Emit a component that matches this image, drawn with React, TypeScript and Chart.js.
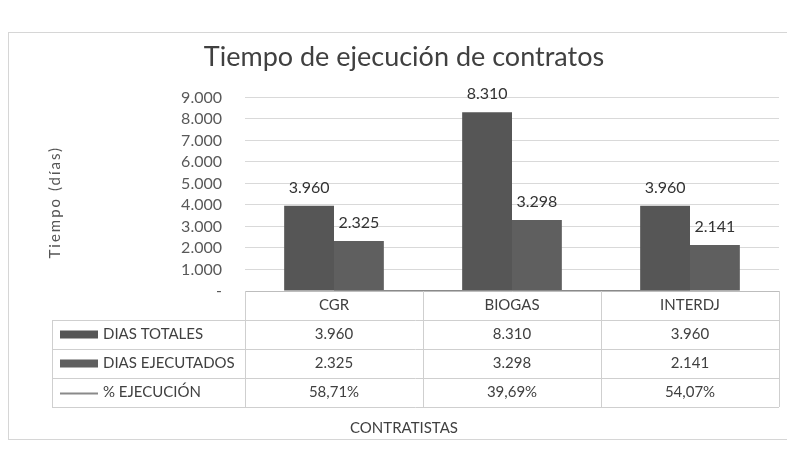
import { useEffect, useRef } from "react";
import { Chart, registerables } from "chart.js";

Chart.register(...registerables);

const categories = ["CGR", "BIOGAS", "INTERDJ"];
const diasTotales = [3960, 8310, 3960];
const diasEjecutados = [2325, 3298, 2141];
const pctEjecucion = [58.71, 39.69, 54.07];
const seriesNames = ["DIAS TOTALES", "DIAS EJECUTADOS", "% EJECUCIÓN"];
const yAxisTitle = "Tiempo (días)";
const xAxisTitle = "CONTRATISTAS";
const chartTitle = "Tiempo de ejecución de contratos";
const yAxisMax = 9000;
const yAxisStep = 1000;

const FONT = "Lato, 'Open Sans', 'DejaVu Sans', sans-serif";
const BAR1 = "#565656";
const BAR2 = "#5f5f5f";
const LINE = "#8a8a8a";
const TEXT = "#404040";

const fmtInt = (v: number) =>
  v === 0 ? "-" : Math.round(v).toString().replace(/\B(?=(\d{3})+(?!\d))/g, ".");
const fmtPct = (v: number) => v.toFixed(2).replace(".", ",") + "%";

const ROW_H = 29;

const dataLabelPlugin = {
  id: "barValueLabels",
  afterDatasetsDraw(chart: any) {
    const { ctx } = chart;
    ctx.save();
    ctx.font = `16px ${FONT}`;
    ctx.fillStyle = "#333333";
    ctx.textAlign = "center";
    ctx.textBaseline = "middle";
    [0, 1].forEach((d) => {
      const meta = chart.getDatasetMeta(d);
      const ds = chart.data.datasets[d];
      meta.data.forEach((bar: any, i: number) => {
        ctx.fillText(fmtInt(ds.data[i] as number), bar.x, bar.y - 18);
      });
    });
    ctx.restore();
  },
};

const yTitlePlugin = {
  id: "yTitle",
  afterDraw(chart: any) {
    const { ctx, chartArea } = chart;
    ctx.save();
    ctx.translate(55, (chartArea.top + chartArea.bottom) / 2 + 8);
    ctx.rotate(-Math.PI / 2);
    ctx.font = `15px ${FONT}`;
    (ctx as any).letterSpacing = "2px";
    ctx.fillStyle = "#555555";
    ctx.textAlign = "center";
    ctx.textBaseline = "middle";
    ctx.fillText(yAxisTitle, 0, 0);
    ctx.restore();
  },
};

const tablePlugin = {
  id: "dataTable",
  afterDraw(chart: any) {
    const { ctx, chartArea } = chart;
    const { left, right, bottom } = chartArea;
    const n = categories.length;
    const step = (right - left) / n;
    const headerBottom = bottom + ROW_H;
    const tableBottom = headerBottom + 3 * ROW_H;
    const tableLeft = 52;
    ctx.save();
    ctx.strokeStyle = "#cfcfcf";
    ctx.lineWidth = 1;
    const line = (x1: number, y1: number, x2: number, y2: number) => {
      ctx.beginPath();
      ctx.moveTo(x1, y1);
      ctx.lineTo(x2, y2);
      ctx.stroke();
    };
    for (let r = 0; r <= 3; r++) {
      const y = Math.round(headerBottom + r * ROW_H) + 0.5;
      line(tableLeft, y, right, y);
    }
    for (let i = 0; i <= n; i++) {
      const xx = Math.round(left + i * step) + 0.5;
      line(xx, bottom, xx, tableBottom);
    }
    line(tableLeft + 0.5, headerBottom, tableLeft + 0.5, tableBottom);

    ctx.font = `15px ${FONT}`;
    ctx.textBaseline = "middle";
    ctx.textAlign = "left";
    const colors = [BAR1, BAR2];
    seriesNames.forEach((name, r) => {
      const cy = headerBottom + ROW_H * (r + 0.5);
      if (r < 2) {
        ctx.fillStyle = colors[r];
        ctx.fillRect(60, cy - 4, 38, 8);
      } else {
        ctx.strokeStyle = LINE;
        ctx.lineWidth = 2;
        line(60, cy + 1, 98, cy + 1);
      }
      ctx.fillStyle = TEXT;
      ctx.fillText(name, 103, cy);
    });
    ctx.restore();
  },
};

export default function App() {
  const ref = useRef<HTMLCanvasElement | null>(null);

  useEffect(() => {
    if (!ref.current) return;
    const tickLabels = categories.map((c, i) => [
      c,
      fmtInt(diasTotales[i]),
      fmtInt(diasEjecutados[i]),
      fmtPct(pctEjecucion[i]),
    ]);
    const chart = new Chart(ref.current, {
      type: "bar",
      data: {
        labels: categories,
        datasets: [
          {
            label: seriesNames[0],
            data: diasTotales,
            backgroundColor: BAR1,
            categoryPercentage: 0.56,
            barPercentage: 1,
            order: 2,
          },
          {
            label: seriesNames[1],
            data: diasEjecutados,
            backgroundColor: BAR2,
            categoryPercentage: 0.56,
            barPercentage: 1,
            order: 2,
          },
          {
            type: "line",
            label: seriesNames[2],
            data: pctEjecucion.map((p) => p / 100),
            borderColor: LINE,
            borderWidth: 2,
            pointRadius: 0,
            order: 1,
          } as any,
        ],
      },
      options: {
        animation: false,
        responsive: false,
        layout: { padding: { left: 29, right: 8, top: 0, bottom: 0 } },
        plugins: {
          legend: { display: false },
          tooltip: { enabled: false },
          title: {
            display: true,
            text: chartTitle,
            color: TEXT,
            font: { size: 27, family: FONT, weight: "normal" },
            padding: { top: 41, bottom: 24 },
          },
          subtitle: {
            display: true,
            position: "bottom",
            text: xAxisTitle,
            color: TEXT,
            font: { size: 15, family: FONT, weight: "normal" },
            padding: { top: 12, bottom: 29 },
          },
        },
        scales: {
          x: {
            grid: { display: false, drawTicks: false },
            border: { display: true, color: "#bdbdbd" },
            ticks: {
              autoSkip: false,
              maxRotation: 0,
              padding: 0,
              color: TEXT,
              font: { size: 15, family: FONT, lineHeight: "29px" } as any,
              callback: (_v: any, i: number) => tickLabels[i],
            },
          },
          y: {
            min: 0,
            max: yAxisMax,
            afterFit: (scale: any) => {
              scale.width = 216;
            },
            grid: { color: "#d9d9d9", drawTicks: false },
            border: { display: false },
            ticks: {
              autoSkip: false,
              stepSize: yAxisStep,
              maxTicksLimit: 20,
              padding: 23,
              color: "#595959",
              font: { size: 16, family: FONT, lineHeight: 1 },
              callback: (v: any) => fmtInt(Number(v)),
            },
          },
        },
      },
      plugins: [dataLabelPlugin, tablePlugin, yTitlePlugin],
    });
    return () => chart.destroy();
  }, []);

  return (
    <div
      style={{
        position: "fixed",
        left: 0,
        top: 0,
        width: 787,
        height: 466,
        background: "#ffffff",
        overflow: "hidden",
      }}
    >
      <div
        style={{
          position: "absolute",
          left: 8,
          top: 32,
          width: 800,
          height: 406,
          border: "1px solid #d6d6d6",
        }}
      />
      <canvas
        ref={ref}
        width={787}
        height={466}
        style={{ position: "absolute", left: 0, top: 0 }}
      />
    </div>
  );
}
